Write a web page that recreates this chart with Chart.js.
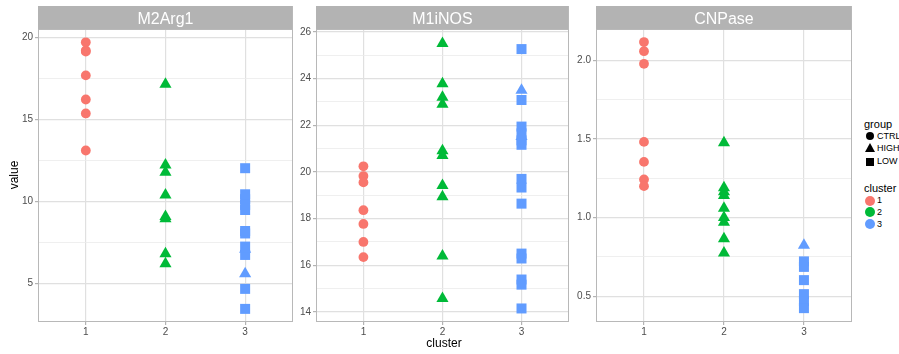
<!DOCTYPE html>
<html>
<head>
<meta charset="utf-8">
<script src="https://cdn.jsdelivr.net/npm/chart.js@4.4.1/dist/chart.umd.min.js"></script>
<style>
  body { margin: 0; width: 899px; height: 354px; background: #fff; position: relative; overflow: hidden;
         font-family: 'Liberation Sans', Arial, sans-serif; }
  canvas { position: absolute; top: 0; }
  .txt { position: absolute; white-space: nowrap; color: #000; }
  .key { position: absolute; }
</style>
</head>
<body>
<canvas id="p1" width="300" height="354" style="left:0px"></canvas>
<canvas id="p2" width="280" height="354" style="left:296px"></canvas>
<canvas id="p3" width="285" height="354" style="left:574px"></canvas>

<div class="txt" style="left:-6px;top:168px;width:40px;text-align:center;font-size:12px;line-height:14px;transform:rotate(-90deg);">value</div>
<div class="txt" style="left:404px;top:336px;width:80px;text-align:center;font-size:12px;line-height:14px;">cluster</div>

<div id="legend"></div>

<script>
var clusters = ['1', '2', '3'];
var groups = ['CTRL', 'HIGH', 'LOW'];
var clusterColors = ['#F8766D', '#00BA38', '#619CFF'];
var panelNames = ['M2Arg1', 'M1iNOS', 'CNPase'];

// M2Arg1 values
var m2arg1Cl1Ctrl = [19.72, 19.22, 19.15, 17.7, 16.23, 15.38, 13.12];
var m2arg1Cl2High = [17.16, 12.24, 11.8, 10.41, 9.1, 8.95, 6.83, 6.22];
var m2arg1Cl3High = [7.1, 5.61];
var m2arg1Cl3Low = [12.04, 10.45, 10.15, 9.8, 9.49, 8.21, 8.06, 7.26, 6.75, 4.68, 3.46];
var m2arg1Major = [5, 10, 15, 20];
var m2arg1Labels = ['5', '10', '15', '20'];
var m2arg1Minor = [7.5, 12.5, 17.5];

// M1iNOS values
var m1inosCl1Ctrl = [20.24, 19.82, 19.55, 18.36, 17.77, 17.0, 16.35];
var m1inosCl2High = [25.5, 23.78, 23.2, 22.9, 20.9, 20.7, 19.42, 18.93, 16.4, 14.58];
var m1inosCl3High = [23.5, 21.52];
var m1inosCl3Low = [25.26, 23.08, 21.94, 21.65, 21.35, 21.16, 19.7, 19.33, 18.64, 16.5, 16.29, 15.39, 15.17, 14.15];
var m1inosMajor = [14, 16, 18, 20, 22, 24, 26];
var m1inosLabels = ['14', '16', '18', '20', '22', '24', '26'];
var m1inosMinor = [15, 17, 19, 21, 23, 25];

// CNPase values
var cnpaseCl1Ctrl = [2.115, 2.057, 1.977, 1.481, 1.354, 1.242, 1.2];
var cnpaseCl2High = [1.475, 1.19, 1.165, 1.14, 1.06, 1.0, 0.97, 0.865, 0.775];
var cnpaseCl3High = [0.825];
var cnpaseCl3Low = [0.722, 0.687, 0.603, 0.514, 0.47, 0.425];
var cnpaseMajor = [0.5, 1.0, 1.5, 2.0];
var cnpaseLabels = ['0.5', '1.0', '1.5', '2.0'];
var cnpaseMinor = [0.75, 1.25, 1.75];

var fontFamily = "'Liberation Sans', Arial, sans-serif";

function toPoints(cluster, values) {
  var pts = [];
  for (var i = 0; i < values.length; i++) {
    pts.push({ x: cluster, y: values[i] });
  }
  return pts;
}

function makeSet(cluster, group, values) {
  var shape = { CTRL: 'circle', HIGH: 'triangle', LOW: 'rect' }[group];
  var radius = { circle: 4.9, triangle: 7, rect: 7.07 }[shape];
  var color = clusterColors[cluster - 1];
  return {
    label: clusters[cluster - 1] + ' ' + group,
    data: toPoints(cluster, values),
    pointStyle: shape,
    pointRadius: radius,
    pointBorderWidth: 0,
    backgroundColor: color,
    borderColor: color,
    showLine: false
  };
}

// strip on top + panel border, ggplot theme_light look
var stripPlugin = {
  id: 'strip',
  afterDraw: function(chart) {
    var a = chart.chartArea;
    var ctx = chart.ctx;
    ctx.save();
    ctx.fillStyle = '#b3b3b3';
    ctx.fillRect(a.left, 6, a.right - a.left, a.top - 6);
    ctx.fillStyle = '#ffffff';
    ctx.font = '16px ' + fontFamily;
    ctx.textAlign = 'center';
    ctx.textBaseline = 'alphabetic';
    ctx.fillText(chart.options.plugins.strip.title, (a.left + a.right) / 2, 24);
    ctx.strokeStyle = '#b8b8b8';
    ctx.lineWidth = 1;
    ctx.strokeRect(Math.round(a.left) + 0.5, Math.round(a.top) + 0.5,
      Math.round(a.right - a.left) - 1, Math.round(a.bottom - a.top) - 1);
    ctx.restore();
  }
};

function drawPanel(id, title, sets, yMin, yMax, major, labels, minor, yWidth, rightPad) {
  var allTicks = major.concat(minor).sort(function(a, b) { return a - b; });
  function isMajor(v) {
    for (var i = 0; i < major.length; i++) {
      if (Math.abs(major[i] - v) < 1e-9) return true;
    }
    return false;
  }
  return new Chart(document.getElementById(id), {
    type: 'scatter',
    data: { datasets: sets },
    plugins: [stripPlugin],
    options: {
      responsive: false,
      animation: false,
      events: [],
      layout: { padding: { top: 29, right: rightPad, left: 0, bottom: 0 } },
      plugins: {
        legend: { display: false },
        tooltip: { enabled: false },
        strip: { title: title }
      },
      scales: {
        x: {
          type: 'linear',
          min: 0.4,
          max: 3.6,
          afterBuildTicks: function(scale) {
            scale.ticks = [{ value: 1 }, { value: 2 }, { value: 3 }];
          },
          afterFit: function(scale) { scale.height = 32; },
          border: { display: false },
          grid: { color: '#e0e0e0', lineWidth: 1.2, tickColor: '#b3b3b3', tickLength: 3 },
          ticks: {
            padding: 1,
            color: '#4d4d4d',
            font: { size: 10, family: fontFamily },
            callback: function(v) { return clusters[v - 1]; }
          }
        },
        y: {
          min: yMin,
          max: yMax,
          afterBuildTicks: function(scale) {
            scale.ticks = allTicks.map(function(v) { return { value: v }; });
          },
          afterFit: function(scale) { scale.width = yWidth; },
          border: { display: false },
          grid: {
            color: function(c) { return isMajor(c.tick.value) ? '#e0e0e0' : '#ebebeb'; },
            lineWidth: function(c) { return isMajor(c.tick.value) ? 1.2 : 0.8; },
            tickColor: function(c) { return isMajor(c.tick.value) ? '#b3b3b3' : 'rgba(0,0,0,0)'; },
            tickLength: 3
          },
          ticks: {
            padding: 2,
            color: '#4d4d4d',
            font: { size: 10, family: fontFamily },
            callback: function(v) {
              for (var i = 0; i < major.length; i++) {
                if (Math.abs(major[i] - v) < 1e-9) return labels[i];
              }
              return '';
            }
          }
        }
      }
    }
  });
}

drawPanel('p1', panelNames[0], [
  makeSet(1, 'CTRL', m2arg1Cl1Ctrl),
  makeSet(2, 'HIGH', m2arg1Cl2High),
  makeSet(3, 'HIGH', m2arg1Cl3High),
  makeSet(3, 'LOW', m2arg1Cl3Low)
], 2.66, 20.53, m2arg1Major, m2arg1Labels, m2arg1Minor, 38, 5);

drawPanel('p2', panelNames[1], [
  makeSet(1, 'CTRL', m1inosCl1Ctrl),
  makeSet(2, 'HIGH', m1inosCl2High),
  makeSet(3, 'HIGH', m1inosCl3High),
  makeSet(3, 'LOW', m1inosCl3Low)
], 13.57, 26.12, m1inosMajor, m1inosLabels, m1inosMinor, 20, 3);

drawPanel('p3', panelNames[2], [
  makeSet(1, 'CTRL', cnpaseCl1Ctrl),
  makeSet(2, 'HIGH', cnpaseCl2High),
  makeSet(3, 'HIGH', cnpaseCl3High),
  makeSet(3, 'LOW', cnpaseCl3Low)
], 0.337, 2.198, cnpaseMajor, cnpaseLabels, cnpaseMinor, 22, 7);

// legends on the right (html)
function buildLegend() {
  var box = document.getElementById('legend');
  var html = '';
  html += '<div class="txt" style="left:864px;top:118px;font-size:11px;line-height:13px;">group</div>';
  var keyY = [136.5, 148.5, 161.5];
  html += '<div class="key" style="left:866px;top:132px;width:8px;height:8px;border-radius:50%;background:#000;"></div>';
  html += '<div class="key" style="left:865px;top:143px;width:0;height:0;border-left:5px solid transparent;border-right:5px solid transparent;border-bottom:9px solid #000;"></div>';
  html += '<div class="key" style="left:866px;top:158px;width:8px;height:8px;background:#000;"></div>';
  for (var i = 0; i < groups.length; i++) {
    html += '<div class="txt" style="left:877px;top:' + (keyY[i] - 5.5) + 'px;font-size:9px;line-height:11px;">' + groups[i] + '</div>';
  }
  html += '<div class="txt" style="left:864px;top:182px;font-size:11px;line-height:13px;">cluster</div>';
  var clY = [200.7, 212.4, 224.2];
  for (var j = 0; j < clusters.length; j++) {
    html += '<div class="key" style="left:865px;top:' + (clY[j] - 5) + 'px;width:10px;height:10px;border-radius:50%;background:' + clusterColors[j] + ';"></div>';
    html += '<div class="txt" style="left:877px;top:' + (clY[j] - 5.5) + 'px;font-size:9px;line-height:11px;">' + clusters[j] + '</div>';
  }
  box.innerHTML = html;
}

buildLegend();
</script>
</body>
</html>
